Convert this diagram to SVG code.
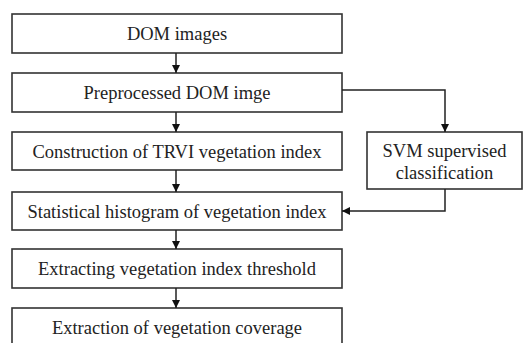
<svg xmlns="http://www.w3.org/2000/svg" width="524" height="343" viewBox="0 0 524 343">
<defs>
<style>
.box{fill:#fff;stroke:#333;stroke-width:1.6}
.t{font-family:"Liberation Serif","Times New Roman",serif;font-size:18.5px;fill:#222;text-anchor:middle}
.c{fill:none;stroke:#222;stroke-width:1.5}
</style>
<marker id="ah" viewBox="0 0 10 10" refX="10" refY="5" markerWidth="8" markerHeight="8" markerUnits="userSpaceOnUse" orient="auto">
<path d="M0,0 L10,5 L0,10 Z" fill="#111"/>
</marker>
</defs>
<rect width="524" height="343" fill="#fff"/>
<g id="n1"><rect class="box" x="12" y="14" width="330" height="39"/><text class="t" x="177" y="40">DOM images</text></g>
<g id="n2"><rect class="box" x="12" y="73" width="330" height="39"/><text class="t" x="177" y="99">Preprocessed DOM imge</text></g>
<g id="n3"><rect class="box" x="12" y="132" width="330" height="38"/><text class="t" x="177" y="157.5">Construction of TRVI vegetation index</text></g>
<g id="n4"><rect class="box" x="12" y="192" width="330" height="38"/><text class="t" x="177" y="217.5">Statistical histogram of vegetation index</text></g>
<g id="n5"><rect class="box" x="12" y="249" width="330" height="39"/><text class="t" x="177" y="275">Extracting vegetation index threshold</text></g>
<g id="n6"><rect class="box" x="12" y="308" width="330" height="40"/><text class="t" x="177" y="334">Extraction of vegetation coverage</text></g>
<g id="n7"><rect class="box" x="367" y="132" width="155" height="57"/><text class="t" x="444.5" y="156.5">SVM supervised</text><text class="t" x="444.5" y="178.5">classification</text></g>
<g id="connectors">
<line class="c" x1="176" y1="53" x2="176" y2="73" marker-end="url(#ah)"/>
<line class="c" x1="176" y1="112" x2="176" y2="132" marker-end="url(#ah)"/>
<line class="c" x1="176" y1="170" x2="176" y2="192" marker-end="url(#ah)"/>
<line class="c" x1="176" y1="230" x2="176" y2="249" marker-end="url(#ah)"/>
<line class="c" x1="176" y1="288" x2="176" y2="308" marker-end="url(#ah)"/>
<polyline class="c" points="342,90 445,90 445,132" marker-end="url(#ah)"/>
<polyline class="c" points="445,189 445,211 342,211" marker-end="url(#ah)"/>
</g>
</svg>
